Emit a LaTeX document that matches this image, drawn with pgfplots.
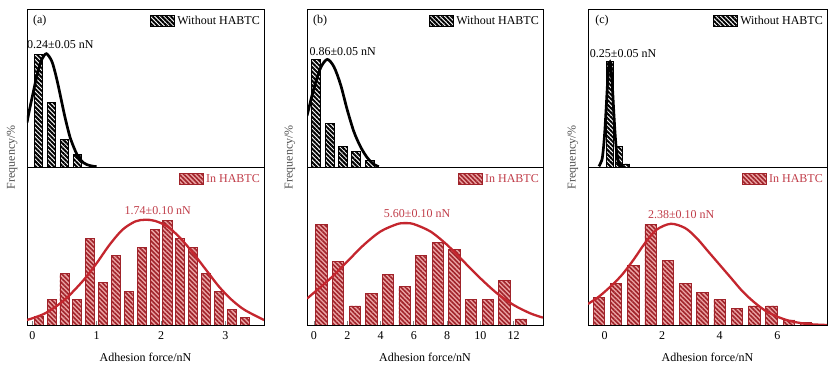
\documentclass[border=0pt]{standalone}
\usepackage{fontspec}
\setmainfont{Liberation Serif}
\usepackage{pgfplots}
\pgfplotsset{compat=1.18}
\usetikzlibrary{patterns.meta}

\definecolor{barred}{RGB}{160,35,42}
\definecolor{fillred}{RGB}{236,165,165}
\definecolor{curvered}{RGB}{196,38,46}
\definecolor{textred}{RGB}{192,60,72}
\definecolor{labgray}{RGB}{80,80,80}

\newcommand{\fs}{\fontsize{12}{14}\selectfont}

\pgfplotsset{
  panel/.style={scale only axis, anchor=south west, ytick=\empty,
    axis line style={line width=0.9pt}, clip mode=individual,
    tick label style={font=\fs}, /pgf/number format/assume math mode=true,
    legend style={draw=none, fill=none, at={(1,1)}, anchor=north east,
      font=\fs, legend cell align=left, inner sep=1pt, xshift=-1pt, yshift=-4pt}},
  topaxis/.style={panel, height=158pt, ymin=0, ymax=470, xtick=\empty},
  botaxis/.style={panel, height=158pt, ymin=0, ymax=473,
    xtick align=inside, xtick pos=bottom, major tick length=4pt,
    major tick style={line width=0.8pt},
    xticklabel style={yshift=-3pt},
    xlabel={Adhesion force/nN},
    xlabel style={font=\fs, at={(axis description cs:0.5,0)}, anchor=center, yshift=-32pt},
    legend style={text=textred}},
  blackbar/.style={ybar, draw=black, line width=0.9pt, fill=white,
    postaction={pattern={Lines[angle=-45,distance=3.2pt,line width=2pt]}, pattern color=black},
    legend image code/.code={\draw[##1] (0pt,-5.5pt) rectangle (24pt,5.5pt);}},
  redbar/.style={ybar, draw=barred, line width=0.9pt, fill=fillred,
    postaction={pattern={Lines[angle=-45,distance=3.2pt,line width=1.6pt]}, pattern color=barred},
    legend image code/.code={\draw[##1] (0pt,-5.5pt) rectangle (24pt,5.5pt);}},
  blackcurve/.style={smooth, black, line width=2.7pt, no markers},
  redcurve/.style={smooth, curvered, line width=2.3pt, no markers},
}

\begin{document}
\begin{tikzpicture}[font=\fs]
\useasboundingbox (0,0) rectangle (837pt,366pt);

%%%%%%%%%%%%%%%% (a)
\begin{axis}[topaxis, at={(27pt,199pt)}, width=237pt, xmin=-0.082, xmax=3.60]
\addplot[blackbar, bar width=0.13] coordinates {(0.1,335) (0.3,192) (0.5,82) (0.7,37)};
\addlegendentry{Without HABTC}
\addplot[blackcurve, forget plot] coordinates {(-0.082,132) (-0.05,164) (0,209) (0.05,253) (0.1,292) (0.15,321) (0.22,337) (0.3,316) (0.35,285) (0.4,245) (0.45,200) (0.5,155) (0.55,115) (0.6,81) (0.7,35) (0.8,12) (0.9,4) (1.0,1)};
\node[anchor=north west, inner sep=0pt] at (rel axis cs:0.025,0.96) {(a)};
\node[anchor=base west, inner sep=0pt] at (axis cs:-0.082,351) {0.24±0.05 nN};
\end{axis}
\begin{axis}[botaxis, at={(27pt,41pt)}, width=237pt, xmin=-0.082, xmax=3.60, xtick={0,1,2,3}]
\addplot[redbar, bar width=0.14] coordinates {(0.1,25) (0.3,75) (0.5,153) (0.7,75) (0.9,259) (1.1,127) (1.3,207) (1.5,101) (1.7,233) (1.9,285) (2.1,313) (2.3,259) (2.5,233) (2.7,153) (2.9,101) (3.1,47) (3.3,23)};
\addlegendentry{In HABTC}
\addplot[redcurve, forget plot] coordinates {(-0.082,15) (0.2,35) (0.5,75) (0.8,135) (1.0,185) (1.2,240) (1.4,285) (1.6,310) (1.75,315) (1.9,312) (2.1,295) (2.3,260) (2.5,215) (2.7,165) (2.9,115) (3.1,75) (3.3,45) (3.6,15)};
\node[anchor=base, inner sep=0pt, text=textred] at (axis cs:1.95,330) {1.74±0.10 nN};
\node[rotate=90, anchor=center, inner sep=0pt, text=labgray] at (rel axis cs:-0.063,1.063) {Frequency/\%};
\end{axis}

%%%%%%%%%%%%%%%% (b)
\begin{axis}[topaxis, at={(307pt,199pt)}, width=236pt, xmin=-0.42, xmax=13.77]
\addplot[blackbar, bar width=0.54] coordinates {(0.14,320) (0.94,129) (1.74,60) (2.54,47) (3.34,20)};
\addlegendentry{Without HABTC}
\addplot[blackcurve, forget plot] coordinates {(-0.42,152) (0,235) (0.4,295) (0.8,320) (1.2,298) (1.6,245) (2.0,170) (2.4,105) (2.8,60) (3.2,28) (3.6,8) (3.9,1)};
\node[anchor=north west, inner sep=0pt] at (rel axis cs:0.025,0.96) {(b)};
\node[anchor=base west, inner sep=0pt] at (axis cs:-0.28,333) {0.86±0.05 nN};
\end{axis}
\begin{axis}[botaxis, at={(307pt,41pt)}, width=236pt, xmin=-0.42, xmax=13.77, xtick={0,2,4,6,8,10,12}]
\addplot[redbar, bar width=0.68] coordinates {(0.45,302) (1.45,189) (2.45,57) (3.45,95) (4.45,152) (5.45,114) (6.45,207) (7.45,246) (8.45,227) (9.45,75) (10.45,75) (11.45,133) (12.45,18)};
\addlegendentry{In HABTC}
\addplot[redcurve, forget plot] coordinates {(-0.42,79) (1,140) (2,190) (3,240) (4,280) (5,302) (5.5,305) (6,302) (7,280) (8,240) (9,190) (10,140) (11,95) (12,60) (13,35) (13.77,22)};
\node[anchor=base, inner sep=0pt, text=textred] at (axis cs:6.2,321) {5.60±0.10 nN};
\node[rotate=90, anchor=center, inner sep=0pt, text=labgray] at (rel axis cs:-0.072,1.063) {Frequency/\%};
\end{axis}

%%%%%%%%%%%%%%%% (c)
\begin{axis}[topaxis, at={(588pt,199pt)}, width=239pt, xmin=-0.58, xmax=7.73]
\addplot[blackbar, bar width=0.24] coordinates {(0.18,315) (0.49,60) (0.75,9)};
\addlegendentry{Without HABTC}
\addplot[blackcurve, forget plot] coordinates {(-0.2,2) (-0.1,20) (-0.05,50) (0,101) (0.05,173) (0.1,250) (0.15,302) (0.18,312) (0.22,295) (0.27,236) (0.32,158) (0.37,89) (0.42,42) (0.5,9) (0.6,1)};
\node[anchor=north west, inner sep=0pt] at (rel axis cs:0.03,0.96) {(c)};
\node[anchor=base west, inner sep=0pt] at (axis cs:-0.52,327) {0.25±0.05 nN};
\end{axis}
\begin{axis}[botaxis, at={(588pt,41pt)}, width=239pt, xmin=-0.58, xmax=7.73, xtick={0,2,4,6}]
\addplot[redbar, bar width=0.4] coordinates {(-0.2,83) (0.4,125) (1.0,179) (1.6,301) (2.2,193) (2.8,125) (3.4,97) (4.0,77) (4.6,49) (5.2,57) (5.8,57) (6.4,15) (7.0,7)};
\addlegendentry{In HABTC}
\addplot[redcurve, forget plot] coordinates {(-0.58,63) (-0.2,85) (0.2,115) (0.6,150) (1.0,195) (1.4,245) (1.8,285) (2.3,303) (2.8,290) (3.2,260) (3.6,220) (4.0,180) (4.4,140) (4.8,100) (5.2,68) (5.6,42) (6.0,25) (6.4,13) (6.8,6) (7.2,2) (7.73,0)};
\node[anchor=base, inner sep=0pt, text=textred] at (axis cs:2.66,318) {2.38±0.10 nN};
\node[rotate=90, anchor=center, inner sep=0pt, text=labgray] at (rel axis cs:-0.063,1.063) {Frequency/\%};
\end{axis}
\end{tikzpicture}
\end{document}
